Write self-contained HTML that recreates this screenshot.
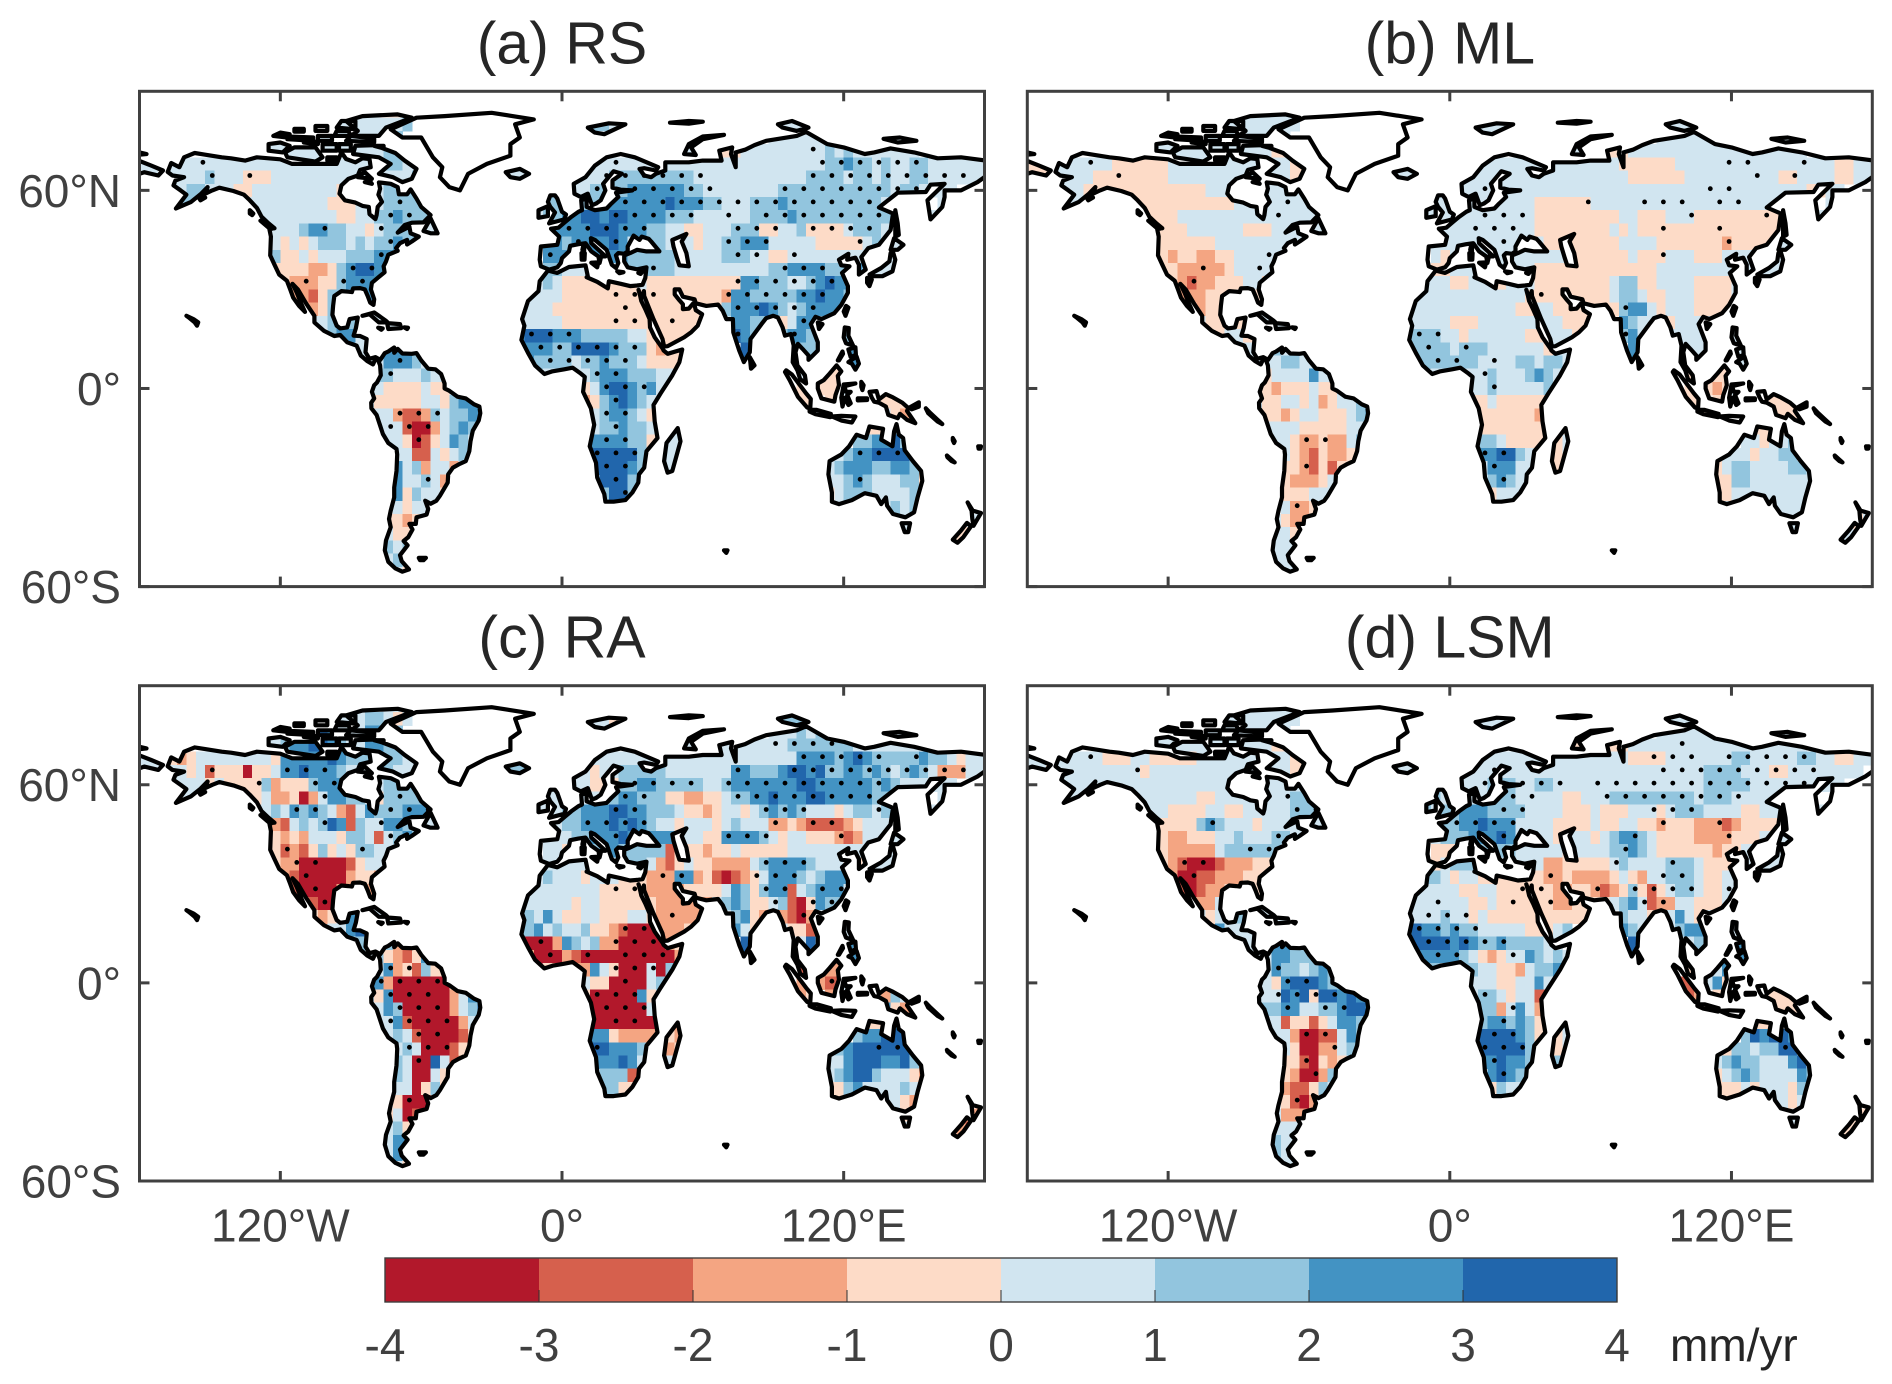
<!DOCTYPE html>
<html lang="en">
<head>
<meta charset="utf-8">
<title>Trend maps: RS, ML, RA, LSM</title>
<style>
html,body{margin:0;padding:0;background:#fff;}
svg{display:block;}
text{font-family:"Liberation Sans",Arial,sans-serif;}
</style>
</head>
<body>
<svg id="figure" xmlns="http://www.w3.org/2000/svg" width="1892" height="1384" viewBox="0 0 1892 1384">
<rect x="0" y="0" width="1892" height="1384" fill="#fff"/>
</svg>
<script>
// ---------- chart data ----------
const latBands = [84,80,76,72,68,64,60,56,52,48,44,40,36,32,28,24,20,16,12,8,4,0,-4,-8,-12,-16,-20,-24,-28,-32,-36,-40,-44,-48,-52,-56];
const colorLevels = ['#b2182b','#d6604d','#f4a582','#fddbc7','#d1e5f0','#92c5de','#4393c3','#2166ac'];
const colorbarTicks = [-4,-3,-2,-1,0,1,2,3,4];
const lonTicks = [-120,0,120];
const latTicks = [60,0,-60];
const lonTickLabels = ['120°W','0°','120°E'];
const latTickLabels = ['60°N','0°','60°S'];
const panelTitles = ['(a) RS','(b) ML','(c) RA','(d) LSM'];

// each row: "leftLon:classes" segments, 4-degree cells, class 1..8 = colour bin from -4 to 4 mm/yr
const valuesRS = [
"-92:44444444",
"-96:55555556 12:665 44:5555 92:555",
"-124:55555555555566 12:555 52:5555 88:5555555 136:5555",
"-128:555555555555566 52:55 68:445555555556565555555",
"-180:555 -168:5555555555555555555555566555 -24:55 12:555555555555555555555555566766565566555555",
"-180:554 -168:5555655544455555555555555565 -24:555 4:55556666666665555555555556666566565566555555",
"-168:556655544555555555445556666 4:55666677777766555555556666666666665665555",
"-164:665555555555555544455566665 -8:665566777777787776655566676666666666555 160:5",
"-132:55555555544556676665 -12:56677887887777666555555666676666666666555555",
"-128:5555677665545666755 -4:77778887776655445556664455644445666555",
"-124:5454566656566766 -8:7767777875566555455667775555544444565555",
"-124:64454555666776 -8:777557777666665555566655445555555555555",
"-124:4444334678877 -8:66555555566666555555555566777766675555",
"-120:43334467777 -12:565444444445444444444477666556787775",
"-116:3324665577 -16:55554444444444444444437766666778776",
"-112:33466555555 -16:5554444444444444444446777876567777",
"-108:55676555555 -20:55555444444444444444 72:7766645776 120:6",
"-100:67753 -20:7888777666665544444 72:8766 92:67765 120:6",
"-92:5535 -76:776 -20:777766888876664344 76:87 96:6665 120:7",
"-84:5577765 -16:76666566766654444 76:86 96:555 120:77",
"-80:66555655 -8:55555677766655 100:5 112:44",
"-80:544445445 8:4578876755 100:44 108:4445",
"-84:5444445546777 8:346787655 100:44 112:44 136:4444",
"-80:553223656677 12:56776544 108:55 136:5434",
"-80:555211356767 12:56676654 48:5 128:44565",
"-76:55412457656 12:7777664455 124:6677866",
"-72:552254566 12:8888864455 116:567788886",
"-72:756355355 12:888876 44:55 112:56777667764",
"-72:7556534 16:88865 112:55676555664",
"-72:746554 16:68865 112:45666555566",
"-72:54555 16:6655 116:5555556566",
"-76:44344 140:656 172:55",
"-76:5444 144:55 168:445",
"-76:6565 164:44",
"-76:5655",
"-76:5544"];

const valuesML = [
"-92:55555555",
"-96:55555555 12:555 44:5555 92:555",
"-124:44555555555555 12:555 52:5555 88:5555555 136:5555",
"-128:555555555555544 52:55 68:445555555555555555555",
"-180:444 -168:5555554444445555555555555444 -24:555 12:555555555555555444444555555555555555554455",
"-180:444 -168:5555444444445555555555555444 -24:555 4:55555555555555555544444455555555554455554455",
"-168:555444444444444455555555555 4:55555555555555555555555555555555555554455",
"-164:555444444444444444555555555 -8:555555555554444445555555555555555555555 160:5",
"-132:44445555555555555555 -12:55555555555544444444455444555444444444 5555555",
"-128:4444555555444555555 -4:5555555555444444445454444444444444444445",
"-124:4444445555555555 -8:555555555555444444445555444444434444455",
"-124:43443344555555 -8:545555555555555444444544455544455555555",
"-124:4433333455555 -8:445555555554444444444444555555554555555",
"-120:43233444554 -12:55544555455544444444566445555444455",
"-116:3334445544 -16:55555555555544444444456654455544445",
"-112:43445555555 -16:5555555555544554444444677545554444 4",
"-108:54444455555 -20:55555444555555555444 72:7655545555 120:5",
"-100:45544 -20:6666554555555445554 72:6755 92:55556 120:5",
"-92:5544 -76:655 -20:566665666555555455 76:77 96:5556 120:5",
"-84:5556655 -16:66666665555665665 76:75 96:444 120:55",
"-80:45555755 -8:55555565556765 100:4 112:44",
"-80:434445445 8:5565555565 100:44 108:4345",
"-84:5445545345568 8:445444444 100:44 112:44 136:4444",
"-80:443455444567 12:44444434 108:44 136:4443",
"-80:555544444554 12:44444444 48:4 128:44545",
"-76:55433433564 12:6654444445 124:5545565",
"-72:543243344 12:7788654 44:45 116:555455665",
"-72:443242444 12:577755 44:4 112:45665555665",
"-72:4333455 16:67655 112:44665555555",
"-72:444555 16:45555 112:44555555555",
"-72:53345 16:4445 116:5555555555",
"-76:54334 140:555 172:45",
"-76:5544 144:55 168:544",
"-76:5555 164:44",
"-76:5555",
"-76:5555"];

const valuesRA = [
"-92:55555544",
"-96:55566545 12:554 44:5555 92:666",
"-124:55568875557766 12:554 52:4455 88:5556565 136:5555",
"-128:556778876557766 52:55 68:555555566666665555555",
"-180:555 -168:4345555555547777787666666555 -24:665 12:555555555555555555555577776787666667665455",
"-180:555 -168:5545244414457787776555665555 -24:665 4:55455666665555555776667887866776765676533355",
"-168:555545444463444677765556666 4:55444667766666556777777788777777676555555",
"-164:555544444533413577665466665 -8:555555567766644334456677877788777776655 160:5",
"-132:55657676532576667775 -12:55566777887766654434554567676555456656555555",
"-128:3325656872655776655 -4:56677787876554555456555334322223455555",
"-124:4343555466525676 -8:555667778757775554477776545544432355555",
"-124:42324645466555 -8:554556776666624443445444445555555555555",
"-124:4331111124554 -8:55555555566532454433335677776555445555",
"-120:32111113443 -12:56555455544433377342123457776567775",
"-116:2111134432 -16:55555555444443333444457646772567775",
"-112:32112445555 -16:55555455444444333333567644562147 66",
"-108:43457155555 -20:56575445544455433333 72:6743332135",
"-100:55788 -20:6675655644321113334 72:7544 92:54425 120:5",
"-92:5685 -76:632 -20:311137656331111134 76:88 96:5585 120:7",
"-84:5643247 -16:31113211111111113 76:86 96:441 120:77",
"-80:57342644 -8:43333754111516 100:2 112:33",
"-80:731111114 8:5441111565 100:34 108:3225",
"-84:5471111113578 8:411111745 100:34 112:34 136:3652",
"-80:576111113568 12:11111151 108:44 136:7434",
"-80:557211111356 12:11111111 48:3 128:44677",
"-76:56521111245 12:7743333 44:43 124:6778886",
"-72:565111245 12:8877765 44:34 116:678888886",
"-72:651185234 12:777875 44:55 112:55788877863",
"-72:6511543 16:66625 112:56788655543",
"-72:551464 16:66444 112:44675555652",
"-72:41114 16:4444 116:4444455432",
"-76:45124 140:342 172:33",
"-76:5644 144:55 168:324",
"-76:5774 164:44",
"-76:5754",
"-76:5544"];

const valuesLSM = [
"-92:55555544",
"-96:55555555 12:555 44:5555 92:555",
"-124:55555555555555 12:555 52:4455 88:5555555 136:5555",
"-128:555555555555544 52:44 68:445555555555555555555",
"-180:554 -168:5555544455444445555555555445 -24:555 12:555555555555555544445555555665555566554455",
"-180:554 -168:5555555554555555555555555445 -24:556 4:5555555555555555555555555566665554455555555",
"-168:555555555555555555555555555 4:55566655665555555555555555666665555555555",
"-164:555555555555554455555555666 -8:655555666555554455566666666656665555555",
"-132:55544445544555556665 -12:65667776666555544454445554566655554455555555",
"-128:4444467655545555555 -4:667787775555444454455443444333234444 55",
"-124:4334445565556655 -8:5666777875555445545677654444333344 4555",
"-124:43333356666665 -8:44455666655555455556676544444434455555",
"-124:4321112333444 -8:456665555555334444456555566654445555555",
"-120:31122333444 -12:665455444444433433334543556665445544",
"-116:2123344444 -16:5555544554444443344323464245665445 55",
"-112:33356555555 -16:555555445444444334444567523355 44455",
"-108:54566355555 -20:55556554544444444444 72:6554557545 120:5",
"-100:75556 -20:787767665555544456 72:7655 92:56775 120:5",
"-92:5566 -76:776 -20:7888878766766665 5 76:87 96:5566 120:7",
"-84:5577666 -16:77777654345576565 76:87 96:557 120:57",
"-80:57665676 -8:65566554435667 100:4 112:57",
"-80:547888766 8:5554455755 96:222 108:5745",
"-84:5558784887876 8:566545522 100:23 112:44 136:4444",
"-80:667755667887 12:66357532 108:44 136:4444",
"-80:552442457765 12:67767643 48:5 128:44655",
"-76:55311225765 12:8888764445 124:6878876",
"-72:541133566 12:8888865 44:45 116:466566886",
"-72:442143455 12:778776 44:67 112:56766555785",
"-72:4311366 16:78766 112:45676555576",
"-72:322465 16:46555 112:44454555465",
"-72:42135 16:3555 116:4444455455",
"-76:53334 140:456 172:44",
"-76:5554 144:55 168:444",
"-76:6554 164:44",
"-76:6555",
"-76:5555"];

// significance stippling: "lat:lon,lon,..." for each stippled row
const stippleRS = ["72.5:107","68.5:-153,23,111,119,127,135,143,151","64.5:-149,-133,19,27,35,43,51,59,107,115,123,131,139,147,155,163,171","60.5:15,31,39,47,55,63,95,103,111,119,127,135,143,151","56.5:-69,27,35,43,51,59,67,75,83,91,99,107,115,123,131","52.5:-73,-65,23,31,39,47,55,71,87,95,103,111,119,127,135","48.5:-101,-77,3,11,19,27,35,75,83,91,107,115,123,131","44.5:-73,7,23,71,79,87,127","40.5:-77,-5,75,83,99","36.5:-89,-81,39,95,103,111","32.5:-109,-93,-85,75,83,91,99,107,115","28.5:23,31,39,71,79,87,95,103,111","24.5:27,75,83,91,99,107","20.5:23,31,47,103","16.5:-13,-5,3,75,99","12.5:-9,-1,7,15,23,31","8.5:-69,-5,3,11,19,27","4.5:-73,15,23","0.5:19,27,35","-3.5:23","-7.5:-69,-61,-53,19,27","-11.5:-73,-65,-57,23","-15.5:-61,19,27","-19.5:15,23,31,127,135,143","-23.5:19,27","-27.5:-57,23,127","-31.5:27"];
const stippleML = ["68.5:-153,119,127,151","64.5:-141,131,147","60.5:15,111,119","56.5:-69,59,83,91,99,115,123","52.5:-73,15,23,31,103,135","48.5:11,19,27,91,115","44.5:23,119","40.5:-77,91","36.5:-81,-105","32.5:-109","28.5:39","24.5:75","16.5:-13,-5,75","12.5:-9,7","8.5:-5,3,19","4.5:15","0.5:19","-15.5:-61,-53","-19.5:15,23","-23.5:-61,19","-27.5:23","-35.5:-65"];
const stippleRA = ["72.5:91,99,107,115","68.5:103,111,119,127,135,151","64.5:-149,-117,-109,-101,75,99,107,115,123,131,139,147,155,163,171","60.5:-129,-105,-97,31,39,47,55,71,79,87,95,103,111,119,127,135","56.5:-101,-69,27,35,75,83,91,99,107,115,123,131","52.5:-113,-105,-73,-65,-57,23,31,87,95,103,135","48.5:-101,-77,11,19,27,35,91,107,115","44.5:-73,23,71,79,87,119","40.5:-117,-85","36.5:-113,-105,87,95,103","32.5:-109,43,51,83,91,99","28.5:-105,23,31,87,95,111,119","24.5:-101,91,107,115","20.5:47,103","16.5:27,35","12.5:-9,23,31,39","8.5:-5,11,27,35,43","4.5:-73,-65,23,31,39","0.5:-77,-69,-61,-53,27,115","-3.5:-73,-65,-57,15,23,31","-7.5:-69,-61,-53,19,27,35","-11.5:-73,-65,-57,-49,23,31","-15.5:-61,-53","-19.5:-65,-57,-49,15,135,143","-23.5:-61","-35.5:-65"];
const stippleLSM = ["72.5:99","68.5:-153,87,95,103,119,127,135,143,151","64.5:-133,19,91,99,107,115,123,131,139,147,155","60.5:15,23,31,39,47,63,71,79,87,95,103,111,119,127,135,143,151","56.5:-69,27,35,67,75,83,91,99,107,115,123","52.5:-65,-57,23,31,87,95,103","48.5:-101,3,11,19,27,91,115","44.5:-73,23,79,119","40.5:-85,-77,75","36.5:-113,-105,71,95","32.5:-109,43,91,99","28.5:31,39,63,79,87,95,103,119","24.5:-5,27,43,83,91","20.5:-9,-1,7","16.5:-13,-5,3,11","12.5:-9,-1,7,15,23","8.5:-5,3,27","4.5:-73","0.5:-69,-61","-3.5:-73,-65,-57,-49,15","-7.5:-69,-53,-45,27","-11.5:23","-15.5:-61,-53,19,27","-19.5:-49,15,23,31,143","-23.5:-61,19","-27.5:-57,23","-35.5:-65"];

const panelValues = [valuesRS,valuesML,valuesRA,valuesLSM];
const panelStipple = [stippleRS,stippleML,stippleRA,stippleLSM];

// coastline outlines, "lon,lat" vertices; basemap geometry, not data values
const landOutlines = [
"-168,65.6 -166.5,68.3 -163,67 -161,70 -156.5,71.3 -152,70.8 -145,70 -141,69.7 -135,69 -130,70 -125,69.7 -120,69.4 -115,68 -110,68 -105,68 -100,68 -96,68 -94,71.5 -92,69.5 -88,68.5 -85,69.7 -82,69.5 -81.5,67 -86,66.2 -87,64.5 -91,63.5 -94,61.5 -94.8,59 -92.5,57 -88,56.3 -85,55.3 -82.3,55 -82,52.8 -79.5,51.3 -79,52.5 -78.5,55 -76.7,56.5 -78.2,58.7 -77.5,60.5 -78,62.4 -73,62 -70,61 -69.5,58.8 -66,58.8 -64.5,60.3 -62,57.5 -60,55 -56,52.5 -59,50.3 -64,50.2 -67,49.5 -70,47.2 -65,49 -64.5,47 -61,46 -64,44.5 -66,43.6 -66,45 -69,44 -70.7,42.5 -70,41.7 -74,40.5 -75,38.5 -76,37 -75.6,35.2 -78,33.8 -81,32 -81.4,30 -80,27 -80.3,25.3 -81.7,26 -82.8,28 -84,30 -86,30.4 -89,30.3 -89.5,29.2 -91,29.3 -94,29.5 -97,28 -97.5,25 -97.8,22.3 -96,19 -94.5,18.2 -91.5,18.5 -90.5,21 -87,21.5 -87.8,18.3 -88.8,16 -86,15.9 -83.2,15 -83.7,11 -82,9 -79.5,9.5 -77.4,8.7 -75.5,10.7 -74,11.2 -71.5,12.4 -71.5,10.8 -70,12 -68,10.6 -64,10.5 -62,10.7 -60,8.5 -57,6 -54,5.8 -51.5,4.4 -50,1.5 -50,0 -48,-0.7 -44.5,-2.5 -41,-3 -37.5,-4.8 -35.2,-5.5 -34.8,-7.5 -35.5,-9.7 -38,-12.8 -39,-16 -39.5,-19 -41,-22 -44,-23 -46.5,-24 -48.5,-26 -48.7,-28.5 -52,-32.5 -53.5,-34 -56,-34.9 -58.3,-34 -57,-36.5 -57.7,-38.2 -62,-39 -62.3,-41 -65,-41 -63.7,-42.7 -65.5,-45 -67.5,-46.2 -65.8,-47.5 -69,-50.5 -68.3,-52.3 -65.2,-54.8 -68,-55.5 -71,-54.5 -74,-52.5 -75.5,-49 -75,-46 -73,-42 -73.7,-39.5 -73,-37 -71.5,-33 -71.5,-30 -70.5,-25 -70.2,-20 -70.5,-18.3 -74,-16.5 -76.3,-13.8 -79,-8 -81.2,-6 -81.3,-4.3 -80,-3 -81,-1 -80,1 -78.8,1.8 -77.2,4 -77.5,7 -78.3,8.5 -79.5,8.9 -80.5,7.3 -83,8.3 -85.7,10 -87.5,13 -91.5,14 -94.5,16.2 -97,15.9 -101.5,17.5 -105.5,20 -105.5,22 -109,25.7 -112.5,30 -114.8,31.7 -113,29 -111,25.5 -109.5,23.2 -112,25 -114.5,27.5 -115.8,30 -117.2,32.6 -120.5,34.5 -122.5,37.5 -124.3,40.3 -124,46 -124.7,48.4 -122.5,48.5 -125,50 -128,52 -130,54.7 -133,57 -135.5,58.7 -140,59.8 -146,60.8 -149,60 -152,59 -151,61 -154,58.8 -158,56.5 -164.5,54.5 -160,58.7 -162.5,60 -165.5,61.5 -164.7,63 -161,64 -166,64.5",
"-5.5,36 -9,37 -9.5,39 -9,43 -2,43.5 -1.2,46 -4.7,48.4 -1.5,48.7 1.5,50.5 4,52 7,53.5 8.5,54 8.2,57 10.5,57.5 10.5,55 14,54 19,54.5 21,56 24,58 23,59.3 30,60 25,60.2 21.5,60.8 21.5,63 25.5,65 22,65.8 17.5,62 18.5,60 16.5,57 14.5,56 12.8,55.5 11,59 8,58 5.3,59 5,62 10,64 14,67.5 19,70 25,71 31,70 41,67 40,66 35,66.7 33,66.5 35,64.5 38,64 40,65 44,66 44,68.5 54,68.5 60,69 68,69 67,72 72.5,73 72,71 74,67 74,71.5 78,72.3 82,73.7 87,75 100,76.5 104,77.7 113,74 120,73 129,71 133,71.5 140,72.7 150,71.5 160,69.7 170,70 182,68.9 182,65 177,62.5 170,60 163,60 163,58 162,55 157,51.2 155.7,57 163,62 157,61.7 155,59.5 143,59.3 135,54.8 141,53 140,48 135,43.5 130.5,42.5 127.5,39.8 129.4,36 126.5,34.5 126.5,37.5 125,39.6 121.5,39 122,40.8 118,39 119,37.3 122.5,37 119.3,35 121.8,31 121.8,29 119,25.3 116,22.8 110.5,21 108,21.7 106,19.5 109,14 109,11.5 105,8.7 105,10 102.5,12 100.5,13.5 99.5,11 100.3,7 103.5,4 104,1.5 101.5,2.8 100.3,5.5 98.3,8 98.7,13 97.5,16.5 95,16 94,18.5 92,21.5 90,22 87,21.3 85,19.5 80.3,15 80,11 77.5,8 75.5,11.5 73,17 72.8,21 70,21 68.5,23.5 66.5,25.4 61.5,25 57,25.8 56.5,27 51.5,27.8 50,30 48,30 48,28.5 50,26.7 51.5,25.5 51.5,24 54,24.2 56.2,26 57,23.7 59.7,22.5 57.8,19 55,17 52,15.5 45,12.8 43.5,12.7 42.8,15 39,21 35,28 34.9,29.5 34.3,27.8 33,29 32.6,29.9 33.3,28 33.8,26.5 35.5,24 37.3,21 37.5,18.5 39.5,15.5 43,12 43.3,11.5 45,10.5 51.2,11.8 50,8 47,4 42,-1.5 39,-5 39.5,-10 40.7,-15 36,-19 35,-24 32.8,-26 32.5,-28.5 30,-31.5 27,-33.8 22,-34.3 18.5,-34.3 18,-32 15,-27 14.5,-22.5 11.8,-17.5 13.7,-11 12.3,-6 9,-1 9.7,3.5 8,4.5 4.5,6.3 1,5.8 -4,5.2 -7.5,4.4 -11.5,7 -14.5,10.8 -17.3,14.7 -16,19 -17,21 -14.5,26.5 -10,29.5 -9.5,32.5 -6,35.7 -2,35 3,36.8 10,37.3 11,34 10.5,33.7 15,32.3 19.5,30.3 20,32.5 25,31.7 29,31 32,31.2 34.3,31.4 35.5,33.5 36,36.7 32,36.1 28,36.7 26.5,38.5 26.5,40.3 29,41 32,42 36,41.5 41.5,41.5 38,44.5 37,45.3 34,46 33,45 30.5,46.3 28,43 28,41.5 26.5,40.8 24,41 23,40.3 24,38 23,36.5 21.2,37.5 19.5,41 19,42 14,45 12.3,45.5 12.5,44 16,41.7 18.5,40 16.7,40 16,38 15.5,40 12.5,41.5 10,44 7,43.7 3.5,43.2 3,41.5 0,39.5 -0.5,38 -2,36.7",
"47,45 53,46.8 51,44.5 53,41 54,37 50,37.3 49,39.5 47.5,43",
"-73,78.5 -68,76 -60,76 -55,70 -51,67 -52,64 -48,61 -43.5,60 -40,65 -32,68 -22,70.5 -22,74 -18,76 -20,80 -12,81.5 -30,83.5 -50,82.5 -62,82",
"-80,73.7 -71,71.3 -67,69 -62,66.5 -64,63.5 -68,62.5 -72,64 -78,65 -73,68 -78,70 -89,71 -88,73.5",
"-117,70 -105,68.7 -102,70 -105,73 -114,73 -118,71.5",
"-125,72 -119,71.5 -116,73.5 -120,74.5 -125,74",
"-90,76.5 -78,76.5 -75,79 -64,82 -70,83 -85,82.5 -92,81 -87,78",
"-92,75 -80,74.6 -80,75.7 -90,76.5",
"-117,75.5 -106,75 -106,76 -117,76.3",
"-102,72 -96,72 -96,74 -102,74",
"-96,79 -88,78.5 -88,81 -94,81",
"-95,72 -90,72 -90,74 -95,74",
"-87,64 -81,63.5 -84,65.5",
"-123,76.5 -117,76 -116,77 -120,77.5",
"-104,75 -98,75 -98,76.5 -104,76.5",
"-105,78 -100,78 -100,79.5 -105,79.5",
"-114,77.8 -110,77.8 -110,78.6 -114,78.6",
"-100,69 -96,69 -96,70 -100,70",
"-84,62.5 -81,62 -82,63",
"-80,73.5 -76,72.7 -76,73.5",
"-110,74.5 -104,74 -104,74.8",
"-97,76.5 -90,76.5 -91,78 -96,78",
"-59,47.7 -56,51.5 -53,47 -56,47",
"-85,22 -80,23 -75,20.5 -74.3,20 -78,20 -82,22.5",
"-74.5,19.8 -69,19.5 -68.5,18.3 -74,18",
"-78.3,18.4 -76.4,18.2 -77,17.8",
"-67.2,18.5 -65.6,18.4 -66,18",
"-160,22 -157,21 -155,20 -155.5,19 -156.5,20 -159,21.5",
"-24,65.5 -18,66.5 -14,65 -18,63.5 -22,64",
"11,79 20,80.3 27,80 18,77 14,77.5",
"46,80.5 54,81 60,80.8 54,80.2",
"52,71 57,70.7 55,73 60,75.5 69,76.8 60,76.3 54,74",
"92,80 98,81 105,79 100,78 94,79",
"137,75.6 144,76 151,75 143,74.5",
"-180,71.5 -177,71 -180,70.8",
"-180,68.9 -175,67.5 -170,66 -172,64.5 -178,65.5 -180,65 -182,66",
"-5,58.5 -3,58.5 -2,57.5 0,53.5 1.7,52.7 1,51.2 -5.5,50 -3,53.3 -5,55 -6,56.5",
"-10,54 -6,55.2 -6,52.2 -10,51.7",
"49.3,-12 50.5,-16 47,-25 45,-25.5 43.5,-22 44.5,-16.5",
"80,9.5 82,7 80.5,6",
"141,41.3 142,39 140.8,35.5 136.5,34 132,34 131,34.5 136,36.5 139.5,38.5 140,41",
"140,42 141.5,45.5 145.5,43.5 143,42",
"130,33.5 132,33 131,31 130,32",
"142,54 143,50 143.5,46.5 142,46 142,50",
"121,25 122,24.5 120.8,22 120,23.3",
"109,20 111,19.5 109.5,18",
"120.5,18.5 122.2,18.3 122,16 124,13 121,13.7 120,15.5",
"122,8 125.5,9.7 126.5,7.5 125,5.7 123.5,7.5",
"122,11.8 125,12.5 125.2,10.2 123,9.5",
"117.5,8.5 119.5,11.2 119.7,10.5 118,8.5",
"95.5,5.5 98,4.2 104,-1.5 106,-3.2 105.8,-5.8 104.5,-5.8 100.5,-2.5 97,2.5 95,5",
"109,1.5 111.5,2.5 114,4.5 117,7 119,5.2 117.5,3.8 118,1 116.5,-2 116,-4 110.5,-3 109,0",
"105.5,-6.5 108.5,-6.5 114.5,-7.7 114.3,-8.7 108,-7.8 105.5,-7",
"115,-8.5 119,-8.3 125,-8.5 123.5,-10.3 119,-9.7",
"119.5,-5.5 120.5,-2.8 122,-5 123,-4.5 121.5,-2 123,-1 121,-1 120.3,0.7 125,1.5 120,1.2 119,-2.8",
"127.5,2 128.5,1 128,-0.5 127.5,0.5",
"126,-3 130,-3 130,-3.5 126,-3.6",
"131,-1 134,-0.8 135,-3.3 138,-1.7 141,-2.7 145,-4.3 147.7,-6 147,-6.8 150.5,-10.5 147,-9.5 144,-7.7 143,-9 139,-8 138,-5.5 135,-4.3 133,-4 132,-2.8",
"148,-5.8 152,-4.2 152,-5.5 149,-6.3",
"155,-6 157,-7.5 160,-9.5 162,-10.8 160,-10 156,-7.5",
"164,-20.3 167.3,-22.4 166,-22 164.2,-20.8",
"166.5,-15 167.3,-16 167,-16.5 166.5,-15.7",
"177.3,-17.5 178.5,-17.5 178.3,-18.2 177.5,-18.2",
"69,-49 70.5,-49 70,-49.8",
"-61,-51.3 -58,-51.3 -59,-52 -60.5,-52",
"114,-22 113.5,-26 115,-31.5 115,-34.3 118,-35 123.5,-33.8 129,-31.7 134,-32.5 136,-35 138,-33 138.5,-35.5 141,-38 146.3,-39 150,-37.5 151.5,-33 153.5,-28 153,-25 149.5,-22 146,-18.7 145.3,-15 143.5,-14 142.5,-10.8 141.5,-13 140.8,-17.5 136,-15.5 136.8,-12.2 131,-11.5 129.5,-15 125.5,-14 122.3,-17.5 119,-20",
"144.7,-40.8 148.3,-40.8 147.5,-43.5 146,-43.5",
"172.5,-40.7 174.3,-41.7 171,-45 168.5,-46.7 166.5,-45.8 170,-43",
"172.8,-34.5 175,-37 178.5,-37.7 177,-39.5 175.3,-41.6 174.8,-39.5 174.5,-37",
"-153,58.2 -152,57.8 -154,57 -154.5,57.5",
"-128.5,50.8 -125,50 -123.5,48.4 -125,48.7",
"-133,54 -131.5,53 -132,52.5 -133,53",
"8.3,41 9.7,41 9.6,39 8.4,39",
"12.5,38.1 15.5,38.2 15,36.7",
"23.5,35.5 26.2,35.2 24.5,34.9",
"32.5,35 34.5,35.6 33.5,34.7",
"9,43 9.5,43 9.4,41.5 8.7,42"
];

// ---------- layout and axis functions ----------
const panelOrigins = [[139.5,91.3],[1027.3,91.3],[139.5,685.7],[1027.3,685.7]];
const PW = 845, PH = 495.3;
const NS = 'http://www.w3.org/2000/svg';
const svg = document.getElementById('figure');
function xScale(lon){ return (lon+180)*PW/360; }
function yScale(lat){ return (90-lat)*PH/150; }
function colorOf(cls){ return colorLevels[cls-1]; }
function node(tag,parent){ const n=document.createElementNS(NS,tag); parent.appendChild(n); return n; }
function outlinePath(){
  return landOutlines.map(function(s){
    return 'M'+s.split(' ').map(function(p){
      const c=p.split(',');
      return xScale(+c[0]).toFixed(1)+' '+yScale(+c[1]).toFixed(1);
    }).join('L')+'Z';
  }).join('');
}
function parseRow(row){
  const segs=[];
  row.split(' ').forEach(function(tok){
    if(!tok) return;
    if(tok.indexOf(':')>=0){
      const p=tok.split(':');
      segs.push({lon:+p[0],vals:p[1]});
    } else if(segs.length){
      segs[segs.length-1].vals+=tok;
    }
  });
  return segs;
}
const coastD = outlinePath();
const defs = node('defs',svg);
const land = node('clipPath',defs);
land.setAttribute('id','land-clip');
const landPath = node('path',land);
landPath.setAttribute('d',coastD);
landPath.setAttribute('clip-rule','evenodd');
const box = node('clipPath',defs);
box.setAttribute('id','panel-clip');
const boxRect = node('rect',box);
boxRect.setAttribute('width',PW);
boxRect.setAttribute('height',PH);

function label(parent,txt,x,y,size,anchor,fill){
  const t=node('text',parent);
  t.setAttribute('x',x);
  t.setAttribute('y',y);
  t.setAttribute('font-size',size);
  t.setAttribute('text-anchor',anchor);
  t.setAttribute('fill',fill);
  t.textContent=txt;
  return t;
}
function line(parent,x1,y1,x2,y2,w,col){
  const l=node('line',parent);
  l.setAttribute('x1',x1);
  l.setAttribute('y1',y1);
  l.setAttribute('x2',x2);
  l.setAttribute('y2',y2);
  l.setAttribute('stroke-width',w);
  l.setAttribute('stroke',col);
  return l;
}

panelOrigins.forEach(function(o,pi){
  const g=node('g',svg);
  g.setAttribute('transform','translate('+o[0]+' '+o[1]+')');
  
  

  const clipOuter=node('g',g);
  clipOuter.setAttribute('clip-path','url(#panel-clip)');
  
  

  const cells=node('g',clipOuter);
  cells.setAttribute('clip-path','url(#land-clip)');
  cells.setAttribute('shape-rendering','crispEdges');
  
  
  panelValues[pi].forEach(function(row,ri){
    const lat=latBands[ri];
    parseRow(row).forEach(function(seg){
      for(let i=0;i<seg.vals.length;i++){
        const c=+seg.vals[i];
        if(!c) continue;
        const lon=seg.lon+i*4;
        const r=node('rect',cells);
        
        
        r.setAttribute('x',xScale(lon).toFixed(2));
        r.setAttribute('y',yScale(lat+2).toFixed(2));
        r.setAttribute('width',(xScale(lon+4)-xScale(lon)+0.5).toFixed(2));
        r.setAttribute('height',(yScale(lat-2)-yScale(lat+2)+0.5).toFixed(2));
        r.setAttribute('fill',colorOf(c));
      }
    });
  });

  const coast=node('path',clipOuter);
  
  
  coast.setAttribute('d',coastD);
  coast.setAttribute('fill','none');
  coast.setAttribute('stroke','#000');
  coast.setAttribute('stroke-width','4.2');
  coast.setAttribute('stroke-linejoin','round');

  const dots=node('g',clipOuter);
  
  
  panelStipple[pi].forEach(function(s){
    const p=s.split(':');
    const lat=+p[0];
    p[1].split(',').forEach(function(v){
      const c=node('circle',dots);
      
      
      c.setAttribute('cx',xScale(+v).toFixed(1));
      c.setAttribute('cy',yScale(lat).toFixed(1));
      c.setAttribute('r','2.4');
      c.setAttribute('fill','#000');
    });
  });

  const axes=node('g',g);
  
  
  lonTicks.forEach(function(t){
    const x=xScale(t);
    const a=line(axes,x,0,x,10,3,'#404040');
    
    
    const b=line(axes,x,PH,x,PH-10,3,'#404040');
    
    
  });
  latTicks.forEach(function(t){
    const y=yScale(t);
    const a=line(axes,0,y,10,y,3,'#404040');
    
    
    const b=line(axes,PW,y,PW-10,y,3,'#404040');
    
    
  });
  const frame=node('rect',axes);
  
  
  frame.setAttribute('width',PW);
  frame.setAttribute('height',PH);
  frame.setAttribute('fill','none');
  frame.setAttribute('stroke','#404040');
  frame.setAttribute('stroke-width','3');

  const title=label(g,panelTitles[pi],PW/2,-28,59,'middle','#262626');
  
  

  if(pi===0||pi===2){
    latTicks.forEach(function(t,i){
      const l=label(g,latTickLabels[i],-18.5,yScale(t)+16.5,46,'end','#404040');
      
      
    });
  }
  if(pi>=2){
    lonTicks.forEach(function(t,i){
      const l=label(g,lonTickLabels[i],xScale(t),556,46,'middle','#404040');
      
      
    });
  }
});

// ---------- colorbar ----------
const cbX=385, cbY=1258, cbW=1232, cbH=44;
function cbScale(v){ return cbX+(v+4)*cbW/8; }
const cb=node('g',svg);


colorLevels.forEach(function(col,i){
  const r=node('rect',cb);
  
  
  r.setAttribute('x',cbScale(i-4));
  r.setAttribute('y',cbY);
  r.setAttribute('width',cbScale(i-3)-cbScale(i-4));
  r.setAttribute('height',cbH);
  r.setAttribute('fill',col);
  r.setAttribute('shape-rendering','crispEdges');
});
const cbFrame=node('rect',cb);


cbFrame.setAttribute('x',cbX);
cbFrame.setAttribute('y',cbY);
cbFrame.setAttribute('width',cbW);
cbFrame.setAttribute('height',cbH);
cbFrame.setAttribute('fill','none');
cbFrame.setAttribute('stroke','#404040');
cbFrame.setAttribute('stroke-width','1.4');
colorbarTicks.forEach(function(v){
  const x=cbScale(v);
  const t=line(cb,x,cbY+cbH,x,cbY+cbH-12,1,'#303030');
  
  
  const l=label(cb,String(v),x,1361,46,'middle','#404040');
  
  
});
const unit=label(cb,'mm/yr',1670,1361,46,'start','#262626');


</script>
</body>
</html>
